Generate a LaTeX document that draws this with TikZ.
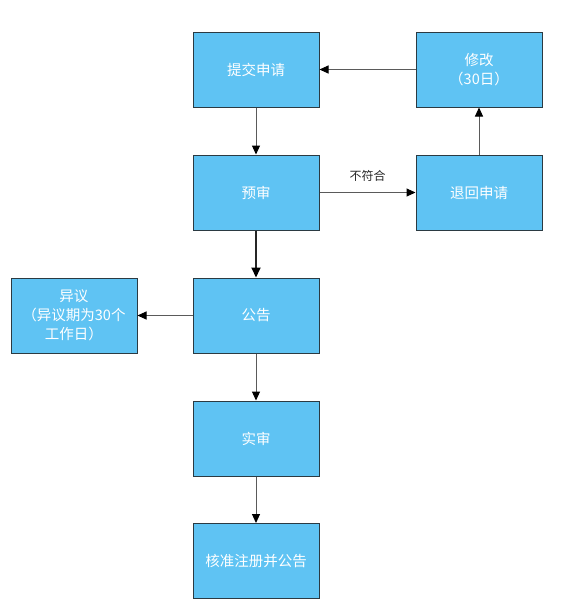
\documentclass[tikz,border=0pt]{standalone}
\usepackage{fontspec}
\setmainfont{Noto Sans CJK SC}
\usetikzlibrary{arrows.meta}
\definecolor{boxfill}{HTML}{5FC3F3}
\definecolor{boxline}{HTML}{2B3A42}
\definecolor{lnk}{HTML}{5A5A5A}
\begin{document}
\begin{tikzpicture}[x=1pt,y=-1pt,
  box/.style={draw=boxline,line width=1pt,fill=boxfill,minimum width=126pt,minimum height=75pt,
    text=white,font=\fontsize{14.5}{19}\selectfont,align=center,inner sep=0pt},
  link/.style={draw=lnk,line width=1pt,-{Triangle[length=9pt,width=8pt,color=black]}},
  thick link/.style={draw=black!85,line width=1.8pt,-{Triangle[length=10pt,width=9pt,color=black]}}]
\useasboundingbox (0,0) rectangle (563,614);
\node[box] (submit) at (256,69.5) {提交申请};
\node[box] (modify) at (479,69.5) {修改\\（30日）};
\node[box] (pre) at (256,192.5) {预审};
\node[box] (back) at (479,192.5) {退回申请};
\node[box] (pub) at (256,315.5) {公告};
\node[box] (obj) at (74,315.5) {异议\\（异议期为30个\\工作日）};
\node[box] (real) at (256,438.5) {实审};
\node[box] (final) at (256,561) {核准注册并公告};
\draw[link] (submit) -- (pre);
\draw[link] (pre) -- node[above=7pt,font=\fontsize{12}{14}\selectfont,text=black!85] {不符合} (back);
\draw[link] (back) -- (modify);
\draw[link] (modify) -- (submit);
\draw[thick link] (pre) -- (pub);
\draw[link] (pub) -- (obj);
\draw[link] (pub) -- (real);
\draw[link] (real) -- (final);
\end{tikzpicture}
\end{document}
